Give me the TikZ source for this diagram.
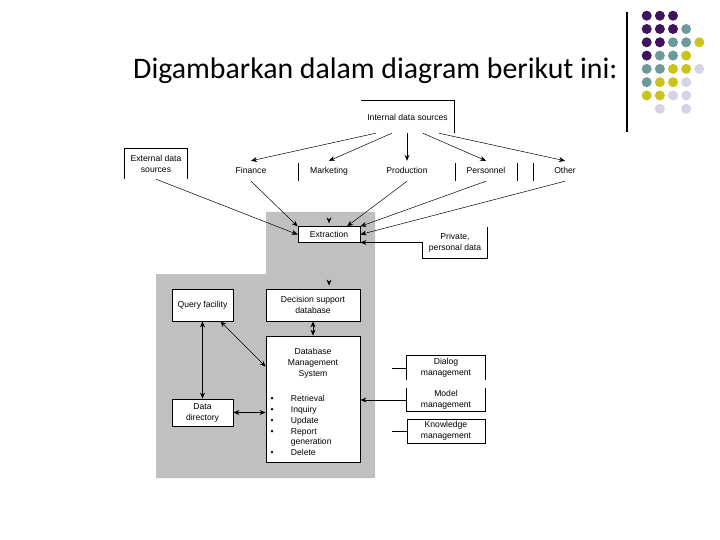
\documentclass[tikz,border=0pt]{standalone}
\usepackage{fontspec}
\setmainfont{Liberation Sans}
\newfontfamily\titlefont{Carlito}
\usetikzlibrary{arrows.meta,calc}
\definecolor{bggray}{RGB}{192,192,192}
\definecolor{dP}{RGB}{62,20,94}
\definecolor{dT}{RGB}{108,154,156}
\definecolor{dY}{RGB}{200,196,30}
\definecolor{dL}{RGB}{212,212,230}
\begin{document}
\begin{tikzpicture}[x=1pt,y=-1pt,
  every node/.style={font=\fontsize{8.6}{10.9}\selectfont, inner sep=0pt, align=center},
  bx/.style={draw, fill=white, line width=0.8pt, rectangle},
  lbl/.style={minimum height=20pt, text height=6.4pt, text depth=1.8pt},
  edge/.style={line width=0.8pt},
  thinar/.style={line width=0.5pt, -{Stealth[length=6pt,width=5pt]}},
  thickar/.style={line width=0.9pt, -{Stealth[length=6pt,width=5pt]}},
  dthin/.style={line width=0.5pt, {Stealth[length=6pt,width=5pt]}-{Stealth[length=6pt,width=5pt]}},
  dthick/.style={line width=0.9pt, {Stealth[length=6pt,width=5pt]}-{Stealth[length=6pt,width=5pt]}},
  hidden/.style={line width=0.9pt, bggray, -{Stealth[length=6pt,width=5pt,color=black]}, shorten >=3pt}
]
\useasboundingbox (0,0) rectangle (720,540);
\fill[white] (0,0) rectangle (720,540);

% title
\node[anchor=base west, font=\titlefont\fontsize{29.8}{34}\selectfont] (title) at (133,79) {Digambarkan dalam diagram berikut ini:};

% decoration
\draw[line width=1.2pt] (627,12) -- (627,132);
\foreach \c/\r/\k in {0/0/dP,1/0/dP,2/0/dP,
  0/1/dP,1/1/dP,2/1/dP,3/1/dT,
  0/2/dP,1/2/dP,2/2/dT,3/2/dT,4/2/dY,
  0/3/dP,1/3/dT,2/3/dT,3/3/dY,
  0/4/dT,1/4/dT,2/4/dY,3/4/dY,4/4/dL,
  0/5/dT,1/5/dY,2/5/dY,3/5/dL,
  0/6/dY,1/6/dY,2/6/dL,3/6/dL,
  1/7/dL,3/7/dL}
  \fill[\k] (646.7+13.15*\c, 15.7+13.3*\r) circle[radius=5pt];

% gray background
\fill[bggray] (266,212) -- (375,212) -- (375,478) -- (156,478) -- (156,274) -- (266,274) -- cycle;

% sources
\node[minimum width=93pt, minimum height=32pt] (int) at (407.5,117) {Internal data sources};
\draw[edge] (int.north west) -- (int.north east) -- (int.south east);
\node[minimum width=62pt, minimum height=30pt] (ext) at (156,164) {External data\\sources};
\draw[edge] (ext.south west) -- (ext.north west) -- (ext.north east) -- (ext.south east);

\node[lbl] (fin) at (251,171) {Finance};
\node[lbl] (mkt) at (329,171) {Marketing};
\node[lbl] (prod) at (407,171) {Production};
\node[lbl] (pers) at (486,171) {Personnel};
\node[lbl] (oth) at (565,171) {Other};
\foreach \x in {298,455,517,533} \draw[edge] (\x,163) -- (\x,181);

\draw[thinar] ([xshift=15pt]int.south west) -- (fin.north);
\draw[thinar] ([xshift=31pt]int.south west) -- (mkt.north);
\draw[thickar] (prod.north |- int.south) -- (prod.north);
\draw[thinar] ([xshift=62pt]int.south west) -- (pers.north);
\draw[thinar] ([xshift=78pt]int.south west) -- (oth.north);

% extraction
\node[bx, minimum width=62pt, minimum height=15.5pt] (extr) at (329,234.5) {Extraction};
\draw[thinar] (ext.south) -- (extr.west);
\draw[thinar] (fin.south) -- (extr.north west);
\draw[thinar] (prod.south) -- ([xshift=18pt]extr.north);
\draw[thinar] (pers.south) -- (extr.north east);
\draw[thinar] (oth.south) -- (extr.east);

\node[minimum width=64pt, minimum height=31pt] (priv) at (455,242.5) {Private,\\personal data};
\draw[edge] (priv.north east) -- (priv.south east) -- (priv.south west) -- (priv.west);
\draw[thickar] (priv.west) -- (priv.west -| extr.east);

\coordinate (gtop) at (329,212);
\draw[hidden] (gtop) -- (extr.north);

% lower part
\node[bx, minimum width=94pt, minimum height=32pt] (dsd) at (313,305) {Decision support\\database};
\draw[hidden] (extr.south) -- (extr.south |- dsd.north);
\node[bx, minimum width=61pt, minimum height=32pt, text height=6.4pt, text depth=1.8pt] (qf) at (202.5,305) {Query facility};
\node[bx, minimum width=94pt, minimum height=126pt] (dbms) at (313,399) {};
\node (dbmst) at (313,363.5) {Database\\Management\\System};
\node[anchor=north west, align=left] (dbmsl) at (270.5,393.5) {%
  \begin{tabular}{@{}p{20.2pt}@{}l@{}}
  \textbullet & Retrieval\\
  \textbullet & Inquiry\\
  \textbullet & Update\\
  \textbullet & Report\\
   & generation\\
  \textbullet & Delete
  \end{tabular}};
\node[bx, minimum width=61pt, minimum height=27pt] (dd) at (202.5,412.5) {Data\\directory};

\draw[dthick] (dsd.south) -- (dbms.north);
\draw[dthin] ([xshift=-13pt]qf.south east) -- ($(dbms.north west)+(0,31)$);
\draw[dthick] (qf.south) -- (dd.north);
\draw[dthick] (dd.east) -- (dd.east -| dbms.west);

% right boxes
\node[minimum width=78pt, minimum height=24pt] (dlg) at (446,368) {Dialog\\management};
\draw[edge] (dlg.south west) -- (dlg.north west) -- (dlg.north east) -- (dlg.south east);
\node[minimum width=78pt, minimum height=23pt] (mdl) at (446,400) {Model\\management};
\draw[edge] (mdl.north west) -- (mdl.south west) -- (mdl.south east) -- (mdl.north east);
\node[bx, minimum width=78pt, minimum height=24pt, font=\fontsize{8.6}{10.6}\selectfont] (kn) at (446,431) {Knowledge\\management};
\coordinate (dlgs) at (392,368);
\coordinate (kns) at (392,431);
\draw[edge] (dlgs) -- (dlg.west);
\draw[edge] (kns) -- (kn.west);
\draw[thickar] (mdl.west) -- (mdl.west -| dbms.east);
\end{tikzpicture}
\end{document}
